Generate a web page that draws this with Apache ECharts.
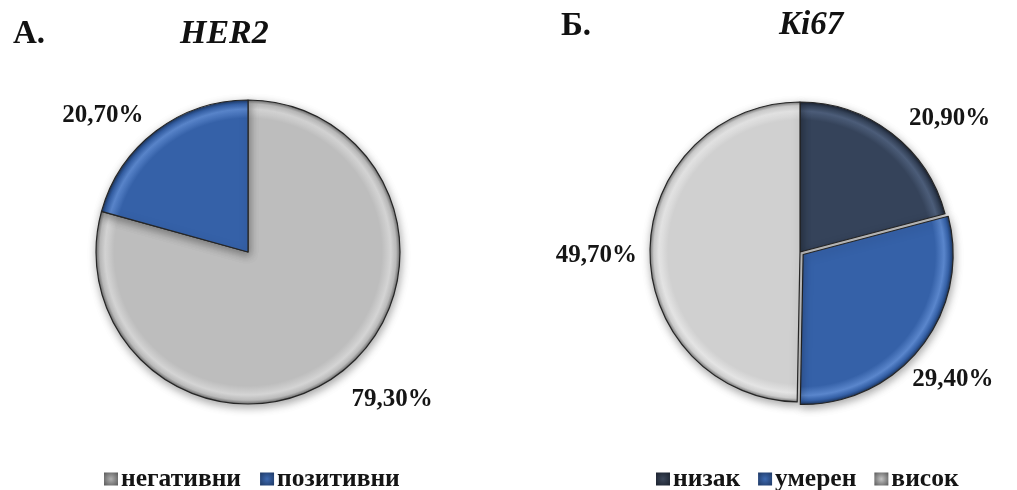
<!DOCTYPE html>
<html>
<head>
<meta charset="utf-8">
<script src="https://cdn.jsdelivr.net/npm/echarts@6/dist/echarts.min.js"></script>
<style>
  html, body { margin: 0; padding: 0; background: #fff; }
  #chart { width: 1017px; height: 490px; }
</style>
</head>
<body>
<div id="chart"></div>
<script>
// HER2 status
const her2Categories = ['негативни', 'позитивни'];
const her2Values = [79.3, 20.7];
// Ki67 index
const ki67Categories = ['низак', 'умерен', 'висок'];
const ki67Values = [20.9, 29.4, 49.7];

const serif = '"Liberation Serif", "DejaVu Serif", serif';

const her2Center = [248, 252], her2Radius = 152;
const ki67Center = [800, 252], ki67Radius = 150;

// Small per-slice nudges for the percentage labels
const her2LabelShift = [[4, 23], [-5, -12]];
const ki67LabelShift = [[10, -11], [-17, 30], [-4, 5]];

// Bevelled look: flat body, light rim just inside the edge, dark outer ring
function shade(center, r, base, light, dark) {
  return {
    type: 'radial', x: center[0], y: center[1], r: r, global: true,
    colorStops: [
      { offset: 0, color: base },
      { offset: 0.88, color: base },
      { offset: 0.94, color: light },
      { offset: 0.975, color: base },
      { offset: 1, color: dark }
    ]
  };
}

// Legend swatches with a soft glossy centre
function swatch(edge, mid) {
  return {
    type: 'radial', x: 0.5, y: 0.5, r: 0.7,
    colorStops: [
      { offset: 0, color: mid },
      { offset: 1, color: edge }
    ]
  };
}

const her2Colors = [
  shade(her2Center, her2Radius, '#bdbdbd', '#d4d4d4', '#6e6e6e'),
  shade(her2Center, her2Radius, '#3561a8', '#5a86cc', '#1c3660')
];
const her2Legend = [swatch('#5c5c5c', '#b0b0b0'), swatch('#1f3a66', '#3d69b0')];
const ki67Colors = [
  shade(ki67Center, ki67Radius, '#35435a', '#4d5e7a', '#1c2433'),
  shade(ki67Center, ki67Radius, '#3561a8', '#5a86cc', '#1c3660'),
  shade(ki67Center, ki67Radius, '#d0d0d0', '#e4e4e4', '#7a7a7a')
];
const ki67Legend = [swatch('#1c232f', '#3c475a'), swatch('#1f3a66', '#3d69b0'), swatch('#5c5c5c', '#c4c4c4')];

function fmt(p) {
  return p.value.toFixed(2).replace('.', ',') + '%';
}

function pieData(cats, vals, colors) {
  return cats.map((c, i) => ({
    name: c,
    value: vals[i],
    itemStyle: { color: colors[i] }
  }));
}

function shiftLabels(shifts) {
  return function (params) {
    const s = shifts[params.dataIndex];
    return { dx: s[0], dy: s[1] };
  };
}

const labelStyle = {
  show: true,
  position: 'outside',
  formatter: fmt,
  fontFamily: serif,
  fontWeight: 'bold',
  fontSize: 25,
  color: '#151515',
  overflow: 'none',
  width: 120
};

const itemStyleBase = {
  borderColor: '#262626',
  borderWidth: 1.2,
  shadowBlur: 8,
  shadowColor: 'rgba(0,0,0,0.35)',
  shadowOffsetX: 1,
  shadowOffsetY: 3
};

const titleFont = { fontFamily: serif, fontWeight: 'bold', fontSize: 33, color: '#111' };
const legendText = { fontFamily: serif, fontWeight: 'bold', fontSize: 25.5, color: '#151515', padding: [0, 0, 0, -2] };

const chart = echarts.init(document.getElementById('chart'), null, { renderer: 'canvas' });

chart.setOption({
  animation: false,
  backgroundColor: '#ffffff',
  title: [
    { text: 'А.', left: 8, top: 13, padding: 5, textStyle: titleFont },
    { text: 'HER2', left: 175, top: 12, padding: 5, textStyle: Object.assign({}, titleFont, { fontSize: 34, fontStyle: 'italic' }) },
    { text: 'Б.', left: 556, top: 5, padding: 5, textStyle: titleFont },
    { text: 'Ki67', left: 774, top: 4, padding: 5, textStyle: Object.assign({}, titleFont, { fontStyle: 'italic' }) }
  ],
  legend: [
    {
      data: her2Categories.map((c, i) => ({ name: c, itemStyle: { color: her2Legend[i], borderWidth: 0 } })),
      left: 99, top: 461,
      itemWidth: 14, itemHeight: 13, itemGap: 19,
      icon: 'rect',
      textStyle: legendText
    },
    {
      data: ki67Categories.map((c, i) => ({ name: c, itemStyle: { color: ki67Legend[i], borderWidth: 0 } })),
      left: 651, top: 461,
      itemWidth: 14, itemHeight: 13, itemGap: 18,
      icon: 'rect',
      textStyle: legendText
    }
  ],
  series: [
    {
      type: 'pie',
      center: her2Center,
      radius: [0, her2Radius],
      startAngle: 90,
      clockwise: true,
      data: pieData(her2Categories, her2Values, her2Colors),
      itemStyle: itemStyleBase,
      label: labelStyle,
      labelLine: { show: false, length: 4, length2: 0 },
      labelLayout: shiftLabels(her2LabelShift),
      emphasis: { disabled: true }
    },
    {
      type: 'pie',
      center: ki67Center,
      radius: [0, ki67Radius],
      startAngle: 90,
      clockwise: true,
      selectedMode: 'single',
      selectedOffset: 4,
      data: pieData(ki67Categories, ki67Values, ki67Colors).map((d, i) => i === 1 ? Object.assign(d, { selected: true }) : d),
      itemStyle: itemStyleBase,
      label: labelStyle,
      labelLine: { show: false, length: 4, length2: 0 },
      labelLayout: shiftLabels(ki67LabelShift),
      emphasis: { disabled: true }
    }
  ]
});
</script>
</body>
</html>
